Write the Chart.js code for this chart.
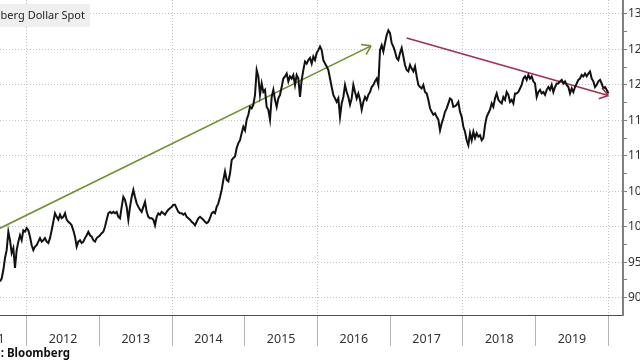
<!DOCTYPE html>
<html>
<head>
<meta charset="utf-8">
<title>Bloomberg Dollar Spot</title>
<script src="https://cdn.jsdelivr.net/npm/chart.js@4.4.1/dist/chart.umd.min.js"></script>
<style>
  html, body { margin: 0; padding: 0; background: #fff; }
  body { width: 640px; height: 360px; overflow: hidden; position: relative; }
  /* the picture is a crop: the left edge of the chart sits off screen */
  .frame { position: absolute; left: -50px; top: 0; width: 720px; height: 360px; }
</style>
</head>
<body>
<div class="frame"><canvas id="chart" width="720" height="360"></canvas></div>
<script>
const seriesName = 'Bloomberg Dollar Spot';
const sourceText = 'Source: Bloomberg';

const yearLabels = ['2011', '2012', '2013', '2014', '2015', '2016', '2017', '2018', '2019'];
const yTickValues = [900, 925, 950, 975, 1000, 1025, 1050, 1075, 1100, 1125, 1150, 1175, 1200, 1225, 1250, 1275, 1300];

// readings, one about every 8 days from Aug 2011
const firstSample = 2011.633;
const sampleStep = 0.022925;
const spotValues = [
  923, 927, 939, 956, 967, 993, 981, 963, 970, 942,
  967, 979, 988, 981, 995, 993, 998, 995, 986, 974,
  967, 972, 974, 979, 984, 979, 981, 984, 979, 977,
  984, 995, 1007, 1019, 1014, 1010, 1017, 1012, 1014, 1019,
  1010, 1007, 1005, 1002, 995, 986, 972, 979, 981, 977,
  979, 984, 988, 993, 988, 986, 981, 979, 984, 986,
  988, 991, 993, 1000, 1010, 1019, 1021, 1019, 1021, 1019,
  1021, 1014, 1012, 1028, 1042, 1038, 1028, 1010, 1028, 1042,
  1052, 1042, 1033, 1028, 1024, 1021, 1028, 1035, 1021, 1014,
  1012, 1012, 1010, 1002, 1014, 1019, 1017, 1021, 1019, 1017,
  1021, 1024, 1026, 1028, 1031, 1031, 1026, 1021, 1019, 1019,
  1017, 1019, 1014, 1012, 1010, 1007, 1005, 1002, 1007, 1012,
  1014, 1012, 1010, 1007, 1005, 1007, 1012, 1019, 1021, 1019,
  1028, 1033, 1042, 1052, 1066, 1078, 1066, 1064, 1075, 1094,
  1097, 1099, 1111, 1118, 1122, 1132, 1141, 1136, 1151, 1158,
  1169, 1167, 1172, 1186, 1221, 1212, 1186, 1202, 1190, 1193,
  1169, 1165, 1151, 1183, 1193, 1179, 1169, 1181, 1186, 1197,
  1209, 1212, 1216, 1205, 1212, 1209, 1214, 1200, 1214, 1209,
  1183, 1207, 1221, 1233, 1230, 1235, 1238, 1230, 1240, 1235,
  1245, 1249, 1254, 1249, 1235, 1230, 1226, 1221, 1209, 1197,
  1186, 1181, 1176, 1181, 1155, 1174, 1183, 1200, 1190, 1183,
  1172, 1181, 1200, 1190, 1181, 1188, 1179, 1165, 1176, 1183,
  1179, 1186, 1190, 1197, 1200, 1205, 1209, 1200, 1249, 1256,
  1247, 1259, 1270, 1277, 1273, 1259, 1254, 1247, 1238, 1235,
  1245, 1252, 1240, 1228, 1221, 1219, 1228, 1223, 1219, 1226,
  1212, 1200, 1197, 1195, 1200, 1190, 1188, 1179, 1167, 1162,
  1158, 1160, 1155, 1151, 1136, 1146, 1153, 1162, 1167, 1174,
  1181, 1179, 1169,
  1170, 1172, 1176, 1162, 1155, 1141, 1134, 1122, 1115, 1132,
  1122, 1134, 1125, 1132, 1127, 1129, 1122, 1125, 1143, 1155,
  1160, 1165, 1174, 1169, 1181, 1188, 1179, 1176, 1174, 1183,
  1179, 1190, 1186, 1176, 1179, 1174, 1188, 1188, 1190, 1195,
  1200, 1209, 1212, 1207, 1214, 1209, 1212, 1205, 1202, 1183,
  1190, 1193, 1188, 1190, 1186, 1193, 1197, 1193, 1200, 1190,
  1197, 1202, 1202, 1205, 1207, 1202, 1205, 1200, 1197, 1188,
  1195, 1190, 1197, 1202, 1207, 1209, 1214, 1212, 1216, 1212,
  1216, 1219, 1209, 1205, 1197, 1200, 1205, 1207, 1202, 1195,
  1197, 1193, 1188
];

// the two hand drawn trend arrows
const riseArrowX = [2011.633, 2016.736];
const riseArrowY = [998, 1255];
const fallArrowX = [2017.227, 2020.0];
const fallArrowY = [1266, 1185];

const xMin = 2011.633;
const xMax = 2020.202;
const yMin = 875.6;
const yMax = 1319.7;

const tickFont = { family: '"Noto Sans", "Open Sans", sans-serif', size: 12 };

function toPoints(xs, ys) {
  return ys.map((v, i) => ({ x: xs[i], y: v }));
}

const spotPoints = spotValues.map((v, i) => ({ x: firstSample + i * sampleStep, y: v }));

const yearTicks = [];
for (let i = 0; i < yearLabels.length; i++) {
  yearTicks.push(2011 + i, 2011.5 + i);
}
yearTicks.push(2011 + yearLabels.length);

const extras = {
  id: 'extras',
  afterDatasetsDraw(chart) {
    const ctx = chart.ctx;
    chart.data.datasets.forEach((ds, i) => {
      if (!ds.arrowHead) return;
      const pts = chart.getDatasetMeta(i).data;
      const a = pts[pts.length - 2];
      const b = pts[pts.length - 1];
      const ang = Math.atan2(b.y - a.y, b.x - a.x);
      ctx.save();
      ctx.strokeStyle = ds.borderColor;
      ctx.lineWidth = ds.borderWidth;
      ctx.beginPath();
      [-1, 1].forEach(function(s) {
        ctx.moveTo(b.x, b.y);
        ctx.lineTo(b.x - 10 * Math.cos(ang + s * 0.6), b.y - 10 * Math.sin(ang + s * 0.6));
      });
      ctx.stroke();
      ctx.restore();
    });
  },
  afterDraw(chart) {
    const ctx = chart.ctx;
    const left = chart.chartArea.left;
    ctx.save();
    // legend box, top left
    ctx.fillStyle = '#efefef';
    ctx.fillRect(0, 4, left + 90, 23);
    ctx.fillStyle = '#1e1e1e';
    ctx.font = '11px "Noto Sans", sans-serif';
    ctx.textAlign = 'right';
    ctx.textBaseline = 'middle';
    ctx.fillText(seriesName, left + 85, 16);
    // source line
    ctx.fillStyle = '#111';
    ctx.font = 'bold 11.5px "Noto Sans", sans-serif';
    ctx.fillText(sourceText, left + 70, 354);
    ctx.restore();
  }
};

new Chart(document.getElementById('chart'), {
  type: 'line',
  data: {
    datasets: [
      {
        label: seriesName,
        data: spotPoints,
        borderColor: '#111111',
        borderWidth: 2,
        pointRadius: 0,
        tension: 0
      },
      {
        label: 'rise',
        data: toPoints(riseArrowX, riseArrowY),
        borderColor: '#6f8f32',
        borderWidth: 1.6,
        pointRadius: 0,
        arrowHead: true
      },
      {
        label: 'fall',
        data: toPoints(fallArrowX, fallArrowY),
        borderColor: '#a1304f',
        borderWidth: 1.6,
        pointRadius: 0,
        arrowHead: true
      }
    ]
  },
  options: {
    responsive: false,
    animation: false,
    devicePixelRatio: 1,
    layout: { padding: { left: 50, top: 0, right: 0, bottom: 0 } },
    plugins: {
      legend: { display: false },
      tooltip: { enabled: false }
    },
    scales: {
      x: {
        type: 'linear',
        min: xMin,
        max: xMax,
        afterBuildTicks: function(scale) {
          scale.ticks = yearTicks.map(v => ({ value: v }));
        },
        afterFit: function(scale) {
          scale.height = 45;
          scale.paddingLeft = 0;
          scale.paddingRight = 0;
        },
        ticks: {
          autoSkip: false,
          maxRotation: 0,
          padding: -14,
          font: { family: tickFont.family, size: 12.5 },
          color: '#333',
          callback: function(value) {
            if (Number.isInteger(value)) return '';
            return yearLabels[Math.floor(value) - 2011];
          }
        },
        grid: {
          lineWidth: 1,
          tickLength: 31,
          color: function(c) {
            const v = c.tick ? c.tick.value : 0;
            return Number.isInteger(v) && v % 2 === 0 ? '#c4c4c4' : 'rgba(0,0,0,0)';
          },
          tickColor: function(c) {
            const v = c.tick ? c.tick.value : 0;
            return Number.isInteger(v) ? '#b4b4b4' : 'rgba(0,0,0,0)';
          }
        },
        border: { display: true, color: '#4d4d4d', width: 1, dash: [1, 2] }
      },
      y: {
        position: 'right',
        min: yMin,
        max: yMax,
        afterBuildTicks: function(scale) {
          scale.ticks = yTickValues.map(v => ({ value: v }));
        },
        afterFit: function(scale) {
          scale.width = 47;
          scale.paddingTop = 0;
          scale.paddingBottom = 0;
        },
        ticks: {
          autoSkip: false,
          padding: 1,
          font: tickFont,
          color: '#333',
          callback: function(value) {
            return value % 50 === 0 ? String(value) : '';
          }
        },
        grid: {
          lineWidth: 1,
          tickLength: 4,
          tickColor: '#808080',
          color: function(c) {
            const v = c.tick ? c.tick.value : 0;
            return v % 50 === 0 ? '#c4c4c4' : 'rgba(0,0,0,0)';
          }
        },
        border: { display: true, color: '#808080', width: 2, dash: [1, 2] }
      }
    }
  },
  plugins: [extras]
});
</script>
</body>
</html>
